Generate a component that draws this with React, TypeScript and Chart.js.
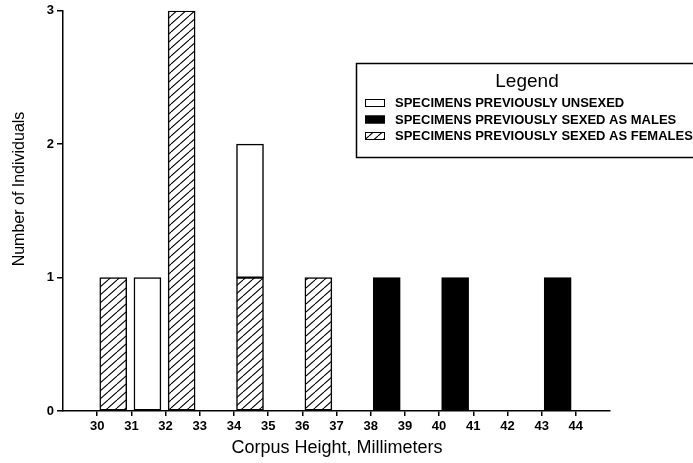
import React, { useEffect, useRef } from 'react';
import { Chart, registerables } from 'chart.js';

Chart.register(...registerables);

// ---- data ----
const BIN_STARTS = [30, 31, 32, 33, 34, 35, 36, 37, 38, 39, 40, 41, 42, 43];
const FEMALES = [1, 0, 3, 0, 1, 0, 1, 0, 0, 0, 0, 0, 0, 0];
const UNSEXED = [0, 1, 0, 0, 1, 0, 0, 0, 0, 0, 0, 0, 0, 0];
const MALES = [0, 0, 0, 0, 0, 0, 0, 0, 1, 0, 1, 0, 0, 1];
const X_TICK_VALUES = [30, 31, 32, 33, 34, 35, 36, 37, 38, 39, 40, 41, 42, 43, 44];
const Y_TICK_VALUES = [0, 1, 2, 3];
const LABEL_UNSEXED = 'SPECIMENS PREVIOUSLY UNSEXED';
const LABEL_MALES = 'SPECIMENS PREVIOUSLY SEXED AS MALES';
const LABEL_FEMALES = 'SPECIMENS PREVIOUSLY SEXED AS FEMALES';
const LEGEND_TITLE = 'Legend';
const X_TITLE = 'Corpus Height, Millimeters';
const Y_TITLE = 'Number of Individuals';

const FONT = '"Liberation Sans", Arial, sans-serif';
const BAR_OFFSET = 0.47;

function makeHatch(): CanvasPattern | string {
  const w = 9;
  const h = 8;
  const c = document.createElement('canvas');
  c.width = w;
  c.height = h;
  const g = c.getContext('2d');
  if (!g) return '#fff';
  g.fillStyle = '#fff';
  g.fillRect(0, 0, w, h);
  g.strokeStyle = '#000';
  g.lineWidth = 1.1;
  g.beginPath();
  for (let k = -1; k <= 1; k++) {
    g.moveTo(k * w, h);
    g.lineTo(k * w + w, 0);
  }
  g.stroke();
  const p = g.createPattern(c, 'repeat');
  return p || '#fff';
}

function series(values: number[]) {
  return BIN_STARTS.map((b, i) => ({ x: b + BAR_OFFSET, y: values[i] })).filter((p) => p.y !== 0);
}

export default function App() {
  const ref = useRef<HTMLCanvasElement>(null);

  useEffect(() => {
    if (!ref.current) return;
    const hatch = makeHatch();

    const legendOrder = [1, 2, 0];

    const decor = {
      id: 'decor',
      beforeDraw(chart: any) {
        const ctx = chart.ctx;
        ctx.save();
        ctx.fillStyle = '#fff';
        ctx.fillRect(0, 0, chart.width, chart.height);
        ctx.restore();
      },
      afterDraw(chart: any) {
        const ctx = chart.ctx;
        ctx.save();
        ctx.fillStyle = '#000';
        // axis titles
        ctx.font = `18px ${FONT}`;
        ctx.textAlign = 'center';
        ctx.textBaseline = 'middle';
        ctx.fillText(X_TITLE, 337, 448);
        ctx.save();
        ctx.translate(20, 189);
        ctx.rotate(-Math.PI / 2);
        ctx.font = `16px ${FONT}`;
        ctx.fillText(Y_TITLE, 0, 0);
        ctx.restore();

        // legend box
        ctx.strokeStyle = '#000';
        ctx.lineWidth = 1.5;
        ctx.strokeRect(356.5, 63.5, 345, 94);
        ctx.font = `19px ${FONT}`;
        ctx.textAlign = 'center';
        ctx.fillText(LEGEND_TITLE, 527, 82);
        ctx.textAlign = 'left';
        ctx.font = `bold 13px ${FONT}`;
        legendOrder.forEach((di, row) => {
          const ds = chart.data.datasets[di];
          const y = 103 + row * 16.5;
          ctx.fillStyle = ds.backgroundColor;
          ctx.fillRect(365, y - 4, 20, 8);
          ctx.lineWidth = 1;
          ctx.strokeStyle = '#000';
          ctx.strokeRect(365.5, y - 3.5, 19, 7);
          ctx.fillStyle = '#000';
          ctx.fillText(ds.label, 395, y + 0.5);
        });
        ctx.restore();
      },
    };

    const common = {
      borderColor: '#000',
      borderWidth: 1.5,
      borderSkipped: false as const,
      barThickness: 27,
    };

    const chart = new Chart(ref.current, {
      type: 'bar',
      data: {
        datasets: [
          { label: LABEL_FEMALES, data: series(FEMALES) as any, backgroundColor: hatch as any, ...common },
          { label: LABEL_UNSEXED, data: series(UNSEXED) as any, backgroundColor: '#fff', ...common },
          { label: LABEL_MALES, data: series(MALES) as any, backgroundColor: '#000', ...common },
        ],
      },
      options: {
        animation: false,
        responsive: true,
        maintainAspectRatio: false,
        layout: { padding: { left: 0, right: 83, top: 10, bottom: 0 } },
        plugins: { legend: { display: false }, tooltip: { enabled: false } },
        scales: {
          x: {
            type: 'linear',
            stacked: true,
            offset: false,
            min: 29,
            max: 45,
            afterBuildTicks: (scale: any) => {
              scale.ticks = X_TICK_VALUES.map((v) => ({ value: v }));
            },
            afterFit: (scale: any) => {
              scale.height = 52;
            },
            ticks: {
              color: '#000',
              font: { family: FONT, size: 13, weight: 'bold' },
              padding: 3,
              maxRotation: 0,
              autoSkip: false,
              callback: (v: any) => String(v),
            },
            grid: {
              display: true,
              offset: false,
              drawOnChartArea: false,
              drawTicks: true,
              tickLength: 5,
              color: '#000',
              lineWidth: 1.5,
            },
            border: { display: true, color: '#000', width: 1.5 },
          },
          y: {
            type: 'linear',
            stacked: true,
            min: 0,
            max: 3,
            afterBuildTicks: (scale: any) => {
              scale.ticks = Y_TICK_VALUES.map((v) => ({ value: v }));
            },
            afterFit: (scale: any) => {
              scale.width = 63;
            },
            ticks: {
              color: '#000',
              font: { family: FONT, size: 13, weight: 'bold' },
              padding: 3,
            },
            grid: {
              display: true,
              drawOnChartArea: false,
              drawTicks: true,
              tickLength: 6,
              color: '#000',
              lineWidth: 1.5,
            },
            border: { display: true, color: '#000', width: 1.5 },
          },
        },
      },
      plugins: [decor],
    });

    return () => chart.destroy();
  }, []);

  return (
    <div style={{ position: 'fixed', left: 0, top: 0, width: 693, height: 463, background: '#fff' }}>
      <canvas ref={ref} />
    </div>
  );
}
